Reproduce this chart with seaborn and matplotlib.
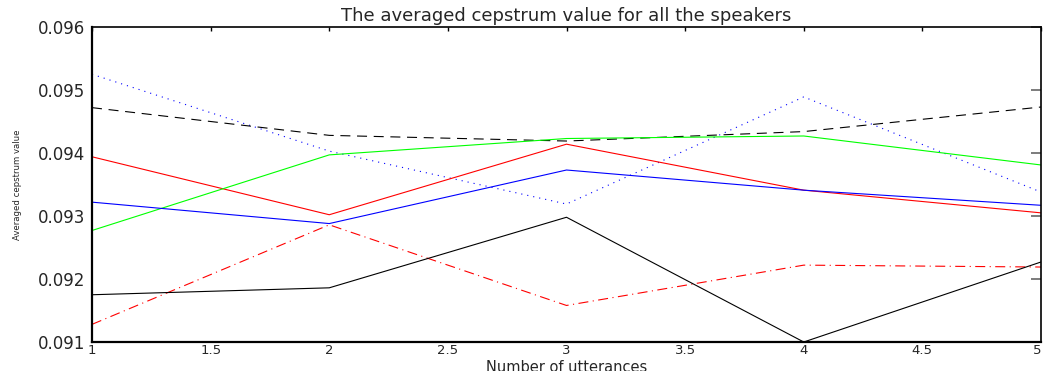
import numpy as np
import pandas as pd
import matplotlib
matplotlib.use("Agg")
import matplotlib.pyplot as plt
import seaborn as sns

utterances = [1, 2, 3, 4, 5]
blue_dotted = [0.09525, 0.09403, 0.09319, 0.09489, 0.09338]
black_dashed = [0.09472, 0.09428, 0.09419, 0.09434, 0.09473]
red_solid = [0.09394, 0.09302, 0.09414, 0.09341, 0.09305]
green_solid = [0.09277, 0.09397, 0.09423, 0.09427, 0.09381]
blue_solid = [0.09322, 0.09288, 0.09373, 0.09341, 0.09317]
red_dashdot = [0.09128, 0.09286, 0.09158, 0.09222, 0.09219]
black_solid = [0.09175, 0.09186, 0.09298, 0.09100, 0.09227]

y_ticks = [0.091, 0.092, 0.093, 0.094, 0.095, 0.096]
x_ticks = [1, 1.5, 2, 2.5, 3, 3.5, 4, 4.5, 5]

sns.set_style("white")
plt.rcParams['font.family'] = ['DejaVu Sans']

W, H = 1043, 371
fig = plt.figure(figsize=(W / 100, H / 100), dpi=100)
ax_left, ax_right, ax_top, ax_bot = 92, 1041, 27, 342
ax = fig.add_axes([ax_left / W, (H - ax_bot) / H, (ax_right - ax_left) / W, (ax_bot - ax_top) / H])

series = [
    (blue_dotted, '#0000ff', (0, (1, 4.5))),
    (black_dashed, '#000000', (0, (9, 6))),
    (red_solid, '#ff0000', '-'),
    (green_solid, '#00ff00', '-'),
    (blue_solid, '#0000ff', '-'),
    (red_dashdot, '#ff0000', (0, (9, 4, 1, 4))),
    (black_solid, '#000000', '-'),
]
for vals, col, ls in series:
    df = pd.DataFrame({'x': utterances, 'y': vals})
    sns.lineplot(data=df, x='x', y='y', ax=ax, color=col, linestyle=ls,
                 linewidth=0.8, errorbar=None)

ax.set_xlim(1, 5)
ax.set_ylim(0.091, 0.096)
ax.set_xticks(x_ticks)
ax.set_xticklabels([f"{t:g}" for t in x_ticks])
ax.set_yticks(y_ticks)
ax.set_yticklabels([f"{t:.3f}" for t in y_ticks])

ax.tick_params(axis='both', direction='in', top=True, right=True)
ax.tick_params(axis='y', length=7, width=1.2, color='0.4', pad=5, labelsize=12)
ax.tick_params(axis='x', length=3, width=1.0, color='black', pad=1.5, labelsize=9.5)
xt = ax.get_xticklabels()
xt[-1].set_horizontalalignment('right')

for name, sp in ax.spines.items():
    sp.set_visible(True)
    sp.set_color('black')
ax.spines['left'].set_linewidth(1.6)
ax.spines['bottom'].set_linewidth(1.6)
ax.spines['top'].set_linewidth(1.2)
ax.spines['right'].set_linewidth(1.2)

ax.set_title("The averaged cepstrum value for all the speakers", fontsize=13, pad=4)

ax.set_xlabel("Number of utterances", fontsize=10.5)
ax.xaxis.label.set_verticalalignment('top')
ax.xaxis.set_label_coords(0.5, ((H - 360.5) - (H - ax_bot)) / (ax_bot - ax_top))

ax.set_ylabel("Averaged cepstrum value", fontsize=6.8, fontstretch='condensed')
ax.yaxis.set_label_coords((22 - ax_left) / (ax_right - ax_left), 0.5)

fig.savefig("out.png", dpi=100)
